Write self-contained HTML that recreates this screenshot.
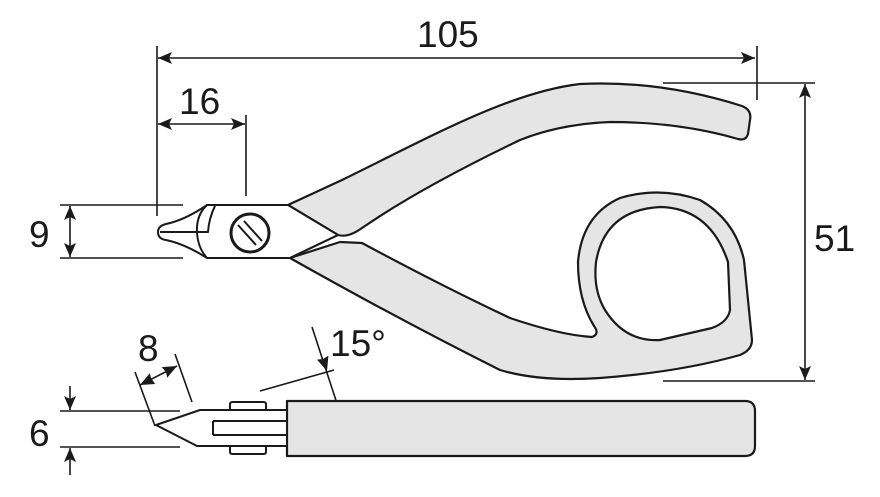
<!DOCTYPE html>
<html><head><meta charset="utf-8"><style>
html,body{margin:0;padding:0;background:#fff;}
svg{display:block;}
text{font-family:"Liberation Sans",sans-serif;fill:#1a1a1a;}
</style></head><body>
<svg width="880" height="497" viewBox="0 0 880 497" xmlns="http://www.w3.org/2000/svg">
<g stroke="#1a1a1a" stroke-width="1.6" fill="none">
<line x1="157" y1="46" x2="157" y2="216"/>
<line x1="757" y1="46" x2="757" y2="100"/>
<line x1="158" y1="58" x2="755" y2="58"/>
<line x1="246" y1="115" x2="246" y2="196"/>
<line x1="158" y1="124" x2="245" y2="124"/>
<line x1="60" y1="205" x2="183" y2="205"/>
<line x1="60" y1="258" x2="183" y2="258"/>
<line x1="70" y1="206" x2="70" y2="257"/>
<line x1="663" y1="83" x2="815" y2="83"/>
<line x1="663" y1="381" x2="815" y2="381"/>
<line x1="805" y1="84" x2="805" y2="380"/>
<line x1="60" y1="411" x2="180" y2="411"/>
<line x1="60" y1="447" x2="180" y2="447"/>
<line x1="70" y1="386" x2="70" y2="410"/>
<line x1="70" y1="475" x2="70" y2="448"/>
<line x1="135" y1="372" x2="155" y2="426"/>
<line x1="175" y1="354" x2="192" y2="402"/>
<line x1="140" y1="385" x2="177" y2="366"/>
<line x1="260" y1="391" x2="334" y2="370"/>
<line x1="312" y1="327" x2="345" y2="428"/>
</g>
<g fill="#1a1a1a">
<polygon points="158,58 172,52 169,58 172,64"/>
<polygon points="755,58 741,52 744,58 741,64"/>
<polygon points="158,124 172,118 169,124 172,130"/>
<polygon points="245,124 231,118 234,124 231,130"/>
<polygon points="70,206 64,220 70,217 76,220"/>
<polygon points="70,257 64,243 70,246 76,243"/>
<polygon points="805,84 799,98 805,95 811,98"/>
<polygon points="805,380 799,366 805,369 811,366"/>
<polygon points="70,410 64,396 70,399 76,396"/>
<polygon points="70,448 64,462 70,459 76,462"/>
<polygon points="140,385 155.2,384 151,378 149.8,373.3"/>
<polygon points="177,366 167.2,377.7 166,372 161.8,367.1"/>
<polygon points="327,371 328.4,355.8 323,359 317,359.6"/>
<polygon points="335,402 345,413.4 339,414 333.6,417.2"/>
</g>
<g stroke="#1a1a1a" stroke-width="2.2" fill="#e5e5e5" stroke-linejoin="round">
<path d="M288,205 L342,180 C430,137 510,92 580,84 Q660,80 742,106 Q752,110 750,120 L748,134 Q746,141 738,139 Q680,122 610,122 Q560,124 520,140 Q420,188 362,228 Q348,238 338,235 Z"/>
<path d="M290,258 L340,242 L362,243 Q440,285 510,318 Q560,335 592,337 Q600,334 594,326 Q578,300 578,262 Q582,215 620,198 Q660,186 700,200 Q735,220 744,260 L752,340 Q752,350 740,355 Q680,372 600,378 Q540,382 500,370 Q400,320 290,258 Z"/>
<path d="M660,207 Q710,208 728,262 L730,310 Q728,322 712,328 L660,340 Q625,342 605,310 Q593,290 596,262 Q605,210 660,207 Z" fill="#fff"/>
<path d="M287,401 L745,401 Q755,401 755,411 L755,446 Q755,456 745,456 L287,456 Z"/>
</g>
<g stroke="#1a1a1a" stroke-width="2" fill="#fff" stroke-linejoin="round">
<path d="M207,205 L288,205 L338,235 L290,258 L207,258 Q185,244 166,240 Q158,239 158,232 Q158,226 166,224 Q185,220 207,205 Z"/>
<path d="M207,205 Q196,215 197,233 Q198,248 207,258" fill="none"/>
<path d="M215,206 Q209,218 208,232 L160,232" fill="none"/>
<circle cx="250" cy="233" r="19" stroke-width="3"/>
<line x1="238" y1="225" x2="256" y2="245" stroke-width="2"/>
<line x1="244" y1="221" x2="262" y2="241" stroke-width="2"/>
<path d="M338,235 L290,258" fill="none"/>
<path d="M156,425 L200,410 L287,410 L287,446 L197,446 Z"/>
<line x1="213" y1="421" x2="287" y2="421"/>
<line x1="213" y1="435" x2="287" y2="435"/>
<line x1="213" y1="421" x2="213" y2="435"/>
<path d="M230,410 L230,404 Q230,402 233,402 L263,402 Q266,402 266,404 L266,410 Z"/>
<path d="M230,446 L230,452 Q230,454 233,454 L263,454 Q266,454 266,452 L266,446 Z"/>
</g>
<text x="417" y="47" font-size="37">105</text>
<text x="179" y="114" font-size="37">16</text>
<text x="29" y="247" font-size="37">9</text>
<text x="814" y="251" font-size="37">51</text>
<text x="29" y="446" font-size="37">6</text>
<text x="138" y="361" font-size="37">8</text>
<text x="330" y="356" font-size="37">15°</text>
</svg>
</body></html>
